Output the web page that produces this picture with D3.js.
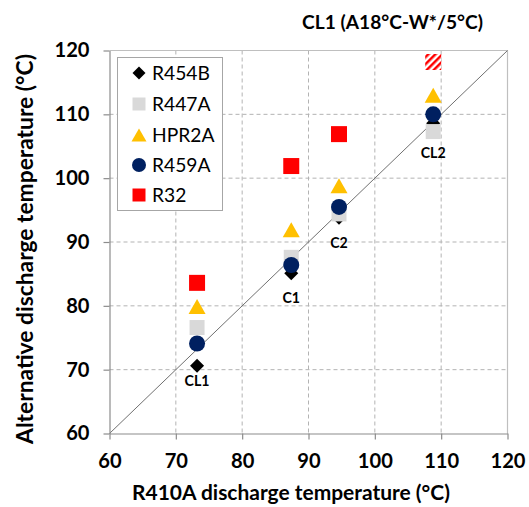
<!DOCTYPE html>
<html><head><meta charset="utf-8">
<script src="https://cdn.jsdelivr.net/npm/d3@7"></script>
<style>
body{margin:0;background:#fff}
svg{display:block}
text{font-family:Lato,"Open Sans",sans-serif;font-weight:bold;fill:#000}
</style>
</head><body>
<svg id="c" width="529" height="507"></svg>
<script>
// ---- data ----
const groups = ["CL1", "C1", "C2", "CL2"];
const r410a  = [73.2, 87.4, 94.6, 108.8];   // x values
const r454b  = [70.6, 85.1, 93.8, 108.6];
const r447a  = [76.6, 87.6, 94.4, 107.3];
const hpr2a  = [79.9, 91.9, 98.8, 113.0];
const r459a  = [74.1, 86.4, 95.5, 110.0];
const r32    = [83.6, 101.9, 106.9, null];
const r32Est = [null, null, null, 118.2];     // hatched (estimated) R32 point
const labelAt = [68.2, 81.2, 89.8, 103.9];    // group label heights (°C)
const xTicks = [60, 70, 80, 90, 100, 110, 120];
const yTicks = [60, 70, 80, 90, 100, 110, 120];
const seriesNames = ["R454B", "R447A", "HPR2A", "R459A", "R32"];
const title = "CL1 (A18°C-W*/5°C)";
const xTitle = "R410A discharge temperature (°C)";
const yTitle = "Alternative discharge temperature (°C)";

// ---- layout ----
const svg = d3.select("#c");
const x = d3.scaleLinear().domain([60, 120]).range([109.5, 507.5]);
const y = d3.scaleLinear().domain([60, 120]).range([433.5, 50.5]);

function fit(sel, w) {
  const cur = sel.node().getComputedTextLength();
  const fs = parseFloat(sel.style("font-size"));
  const nfs = fs * w / cur;
  sel.style("font-size", nfs + "px");
  return nfs;
}

const defs = svg.append("defs");
const pat = defs.append("pattern").attr("id", "hatch").attr("patternUnits", "userSpaceOnUse")
  .attr("width", 5).attr("height", 5).attr("patternTransform", "rotate(45)");
pat.append("rect").attr("width", 5).attr("height", 5).attr("fill", "#fff");
pat.append("rect").attr("width", 2.5).attr("height", 5).attr("fill", "#ff0000");

// gridlines
const grid = svg.append("g");
grid.selectAll(".gv").data(xTicks.slice(1, -1)).join("line")
  .attr("x1", d => x(d)).attr("x2", d => x(d)).attr("y1", y(120)).attr("y2", y(60))
  .attr("stroke", "#b3b3b3").attr("stroke-dasharray", "4,3").attr("stroke-width", 1);
grid.selectAll(".gh").data(yTicks.slice(1, -1)).join("line")
  .attr("y1", d => y(d)).attr("y2", d => y(d)).attr("x1", x(60)).attr("x2", x(120))
  .attr("stroke", "#b3b3b3").attr("stroke-dasharray", "4,3").attr("stroke-width", 1);
// top and right border
svg.append("line").attr("x1", x(60)).attr("x2", x(120)).attr("y1", y(120)).attr("y2", y(120))
  .attr("stroke", "#bfbfbf").attr("stroke-width", 1.2);
svg.append("line").attr("x1", x(120)).attr("x2", x(120)).attr("y1", y(120)).attr("y2", y(60))
  .attr("stroke", "#bfbfbf").attr("stroke-width", 1.2);

// diagonal y = x
svg.append("line").attr("x1", x(60)).attr("y1", y(60)).attr("x2", x(120)).attr("y2", y(120))
  .attr("stroke", "#707070").attr("stroke-width", 1);

// axes
const xAxis = svg.append("g").attr("transform", `translate(0,${y(60)})`)
  .call(d3.axisBottom(x).tickValues(xTicks).tickSize(6).tickSizeOuter(0).tickPadding(14));
const yAxis = svg.append("g").attr("transform", `translate(${x(60)},0)`)
  .call(d3.axisLeft(y).tickValues(yTicks).tickSize(6).tickSizeOuter(0).tickPadding(14));
[xAxis, yAxis].forEach(a => {
  a.select(".domain").attr("stroke", "#8c8c8c").attr("stroke-width", 1.2);
  a.selectAll(".tick line").attr("stroke", "#8c8c8c").attr("stroke-width", 1.2);
  a.selectAll("text").attr("font-family", null).style("font-size", "19px").attr("fill", "#000");
});
const t120 = yAxis.selectAll(".tick text").filter(d => d === 120);
const tfs = fit(t120, 35);
xAxis.selectAll("text").style("font-size", tfs + "px");
yAxis.selectAll("text").style("font-size", tfs + "px");

// markers
const sq = (cx, cy, s) => `M${cx - s / 2},${cy - s / 2}h${s}v${s}h${-s}Z`;
const tri = (cx, cy, w, h) => `M${cx},${cy - h / 2}L${cx + w / 2},${cy + h / 2}L${cx - w / 2},${cy + h / 2}Z`;
const dia = (cx, cy, s) => `M${cx},${cy - s / 2}L${cx + s / 2},${cy}L${cx},${cy + s / 2}L${cx - s / 2},${cy}Z`;

const marks = svg.append("g");
const idx = d3.range(groups.length);
marks.selectAll(".d").data(idx).join("path")
  .attr("d", i => dia(x(r410a[i]), y(r454b[i]), 14)).attr("fill", "#000");
marks.selectAll(".s").data(idx).join("path")
  .attr("d", i => sq(x(r410a[i]), y(r447a[i]), 15)).attr("fill", "#d9d9d9");
marks.selectAll(".t").data(idx).join("path")
  .attr("d", i => tri(x(r410a[i]), y(hpr2a[i]), 17, 15)).attr("fill", "#ffc000");
marks.selectAll(".c").data(idx).join("circle")
  .attr("cx", i => x(r410a[i])).attr("cy", i => y(r459a[i])).attr("r", 8).attr("fill", "#002060");
marks.selectAll(".r").data(idx.filter(i => r32[i] != null)).join("path")
  .attr("d", i => sq(x(r410a[i]), y(r32[i]), 16)).attr("fill", "#ff0000");
marks.selectAll(".re").data(idx.filter(i => r32Est[i] != null)).join("path")
  .attr("d", i => sq(x(r410a[i]), y(r32Est[i]), 16)).attr("fill", "url(#hatch)");

// group labels
const gl = svg.append("g").selectAll("text").data(idx).join("text")
  .attr("x", i => x(r410a[i])).attr("y", i => y(labelAt[i])).attr("dy", "0.35em")
  .attr("text-anchor", "middle").style("font-size", "13px").text(i => groups[i]);
const lfs = fit(gl.filter(i => i === 3), 25);
gl.style("font-size", lfs + "px");

// legend
const lg = svg.append("g");
lg.append("rect").attr("x", 117.5).attr("y", 57.5).attr("width", 105).attr("height", 153)
  .attr("fill", "#fff").attr("stroke", "#a6a6a6").attr("stroke-width", 1);
const rows = [73, 104, 135, 165, 195];
const mx = 139;
lg.append("path").attr("d", dia(mx, rows[0], 13)).attr("fill", "#000");
lg.append("path").attr("d", sq(mx, rows[1], 13)).attr("fill", "#d9d9d9");
lg.append("path").attr("d", tri(mx, rows[2], 15, 13)).attr("fill", "#ffc000");
lg.append("circle").attr("cx", mx).attr("cy", rows[3]).attr("r", 7).attr("fill", "#002060");
lg.append("path").attr("d", sq(mx, rows[4], 13)).attr("fill", "#ff0000");
const lt = lg.selectAll(".lt").data(seriesNames).join("text")
  .attr("x", 152).attr("y", (d, i) => rows[i]).attr("dy", "0.36em")
  .style("font-size", "18px").style("font-weight", "normal").text(d => d);
const lgfs = fit(lt.filter((d, i) => i === 0), 58);
lt.style("font-size", lgfs + "px");

// titles
const tt = svg.append("text").attr("x", 392.5).attr("y", 22).attr("dy", "0.35em")
  .attr("text-anchor", "middle").style("font-size", "16px").text(title);
fit(tt, 181);
const xt = svg.append("text").attr("x", 291).attr("y", 493).attr("dy", "0.35em")
  .attr("text-anchor", "middle").style("font-size", "19px").text(xTitle);
fit(xt, 318);
const yt = svg.append("text").attr("transform", "translate(25,249) rotate(-90)").attr("dy", "0.35em")
  .attr("text-anchor", "middle").style("font-size", "19px").text(yTitle);
fit(yt, 390);
</script>
</body></html>
